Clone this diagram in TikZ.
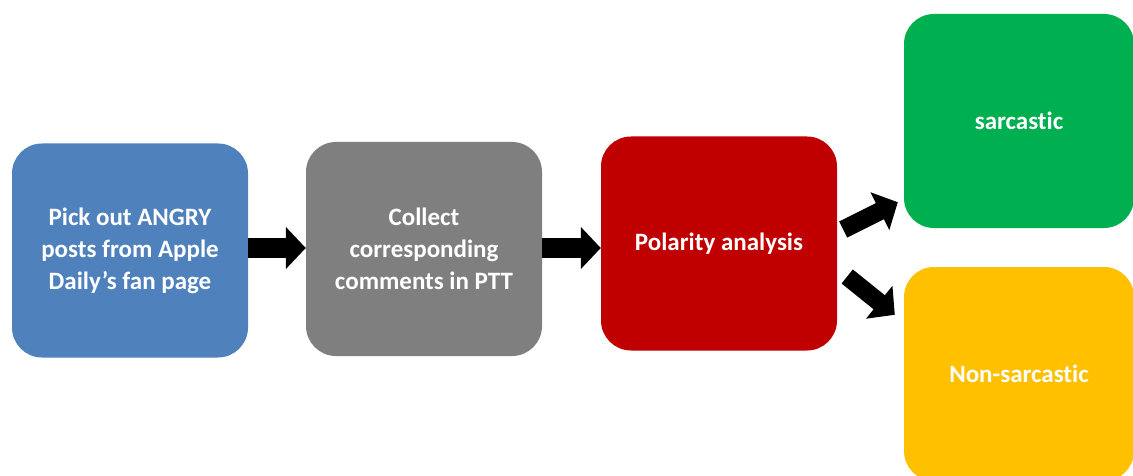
\documentclass[tikz,border=0pt]{standalone}
\usepackage{fontspec}
\setmainfont[Ligatures={NoCommon}]{Carlito}
\usetikzlibrary{arrows.meta,calc}
\definecolor{caixaazul}{HTML}{4F81BD}
\definecolor{caixacinza}{HTML}{7F7F7F}
\definecolor{caixavermelha}{HTML}{C00000}
\definecolor{caixaverde}{HTML}{00B050}
\definecolor{caixalaranja}{HTML}{FFC000}
\begin{document}
\begin{tikzpicture}[
		x=1pt,
		y=1pt,
		caixas/.style={
			rectangle,
			rounded corners=30pt,
			minimum width=236pt,
			minimum height=214pt,
			align=center,
			text=white,
			font=\fontsize{25}{32}\selectfont\bfseries
		},
		seta/.style={
			line width=20pt,
			-{Triangle[length=20pt,width=41pt]}
		}
		]
		
		\useasboundingbox (0,0) rectangle (1133,475);
		
		\node[caixas, fill=caixaazul] (pick) at (130,224.5) {Pick out ANGRY\\posts from Apple\\Daily’s fan page};
		\node[caixas, fill=caixacinza] (collect) at (424,226) {Collect\\corresponding\\comments in PTT};
		\node[caixas, fill=caixavermelha] (polarity) at (719,231.5) {Polarity analysis};
		
		\node[caixas, fill=caixaverde, minimum width=230pt] (sarc) at (1019,354) {sarcastic};
		\node[caixas, fill=caixalaranja, minimum width=230pt] (nonsarc) at (1019,101) {Non-sarcastic};
		
		%Setas
		\coordinate (meio) at ($(pick.east)+(0,2.5)$);
		\draw[seta] (meio) -- (meio -| collect.west);
		\coordinate (meio2) at ($(collect.east)+(0,1)$);
		\draw[seta] (meio2) -- (meio2 -| polarity.west);
		
		\coordinate (cimaA) at ($(polarity.east)+(6,14)$);
		\coordinate (cimaB) at ($(sarc.south west)+(-6,26)$);
		\draw[seta, line width=18pt] (cimaA) -- (cimaB);
		
		\coordinate (baixoA) at ($(polarity.east)+(10,-33)$);
		\coordinate (baixoB) at ($(nonsarc.north west)+(-9,-48)$);
		\draw[seta, line width=18pt] (baixoA) -- (baixoB);
		
	\end{tikzpicture}
\end{document}
